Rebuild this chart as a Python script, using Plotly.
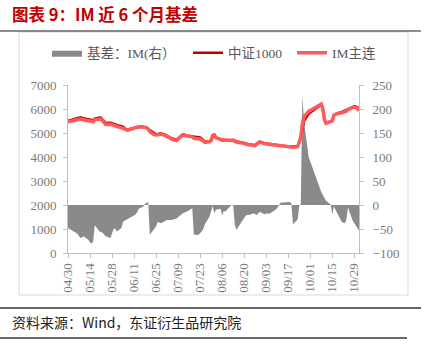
import plotly.graph_objects as go

dates = [
    "2024-04-30",
    "2024-05-06", "2024-05-07", "2024-05-08", "2024-05-09", "2024-05-10",
    "2024-05-13", "2024-05-14", "2024-05-15", "2024-05-16", "2024-05-17",
    "2024-05-20", "2024-05-21", "2024-05-22", "2024-05-23", "2024-05-24",
    "2024-05-27", "2024-05-28", "2024-05-29", "2024-05-30", "2024-05-31",
    "2024-06-03", "2024-06-04", "2024-06-05", "2024-06-06", "2024-06-07",
    "2024-06-11", "2024-06-12", "2024-06-13", "2024-06-14",
    "2024-06-17", "2024-06-18", "2024-06-19", "2024-06-20", "2024-06-21",
    "2024-06-24", "2024-06-25", "2024-06-26", "2024-06-27", "2024-06-28",
    "2024-07-01", "2024-07-02", "2024-07-03", "2024-07-04", "2024-07-05",
    "2024-07-08", "2024-07-09", "2024-07-10", "2024-07-11", "2024-07-12",
    "2024-07-15", "2024-07-16", "2024-07-17", "2024-07-18", "2024-07-19",
    "2024-07-22", "2024-07-23", "2024-07-24", "2024-07-25", "2024-07-26",
    "2024-07-29", "2024-07-30", "2024-07-31", "2024-08-01", "2024-08-02",
    "2024-08-05", "2024-08-06", "2024-08-07", "2024-08-08", "2024-08-09",
    "2024-08-12", "2024-08-13", "2024-08-14", "2024-08-15", "2024-08-16",
    "2024-08-19", "2024-08-20", "2024-08-21", "2024-08-22", "2024-08-23",
    "2024-08-26", "2024-08-27", "2024-08-28", "2024-08-29", "2024-08-30",
    "2024-09-02", "2024-09-03", "2024-09-04", "2024-09-05", "2024-09-06",
    "2024-09-09", "2024-09-10", "2024-09-11", "2024-09-12", "2024-09-13",
    "2024-09-18", "2024-09-19", "2024-09-20",
    "2024-09-23", "2024-09-24", "2024-09-25", "2024-09-26", "2024-09-27",
    "2024-09-30",
    "2024-10-08", "2024-10-09", "2024-10-10", "2024-10-11",
    "2024-10-14", "2024-10-15", "2024-10-16", "2024-10-17", "2024-10-18",
    "2024-10-21", "2024-10-22", "2024-10-23", "2024-10-24", "2024-10-25",
    "2024-10-28", "2024-10-29", "2024-10-30", "2024-10-31", "2024-11-01",
]

csi1000 = [
    5510,
    5600, 5640, 5650, 5630, 5610,
    5580, 5560, 5540, 5545, 5600,
    5650, 5640, 5560, 5500, 5420,
    5430, 5400, 5370, 5350, 5335,
    5280, 5265, 5210, 5160, 5150,
    5230, 5250, 5255, 5260,
    5250, 5240, 5210, 5160, 5120,
    4970, 4950, 4960, 4980, 4990,
    4920, 4880, 4850, 4810, 4780,
    4710, 4760, 4830, 4900, 4940,
    4890, 4880, 4870, 4850, 4845,
    4830, 4810, 4760, 4690, 4650,
    4670, 4700, 4900, 4930, 4820,
    4720, 4720, 4710, 4700, 4710,
    4700, 4710, 4690, 4660, 4650,
    4620, 4580, 4560, 4540, 4530,
    4500, 4490, 4560, 4620, 4640,
    4570, 4560, 4540, 4530, 4520,
    4490, 4480, 4470, 4460, 4450,
    4430, 4440, 4450,
    4460, 4650, 4820, 5150, 5500,
    5800,
    6180, 6000, 5560, 5400,
    5480, 5520, 5740, 5800, 5820,
    5880, 5900, 5920, 5940, 5990,
    6080, 6120, 6100, 6080, 5970,
]

im_main = [
    5462,
    5540, 5575, 5581, 5563, 5545,
    5507, 5482, 5460, 5469, 5558,
    5595, 5584, 5502, 5438, 5355,
    5361, 5340, 5320, 5301, 5280,
    5232, 5230, 5177, 5129, 5120,
    5209, 5230, 5240, 5252,
    5247, 5243, 5214, 5167, 5058,
    4920, 4905, 4925, 4944, 4952,
    4887, 4849, 4819, 4779, 4749,
    4682, 4735, 4806, 4880, 4923,
    4877, 4870, 4861, 4843, 4783,
    4768, 4751, 4705, 4640, 4610,
    4646, 4685, 4898, 4913, 4810,
    4712, 4698, 4698, 4686, 4700,
    4700, 4709, 4650, 4608, 4603,
    4587, 4552, 4538, 4519, 4509,
    4483, 4471, 4539, 4603, 4626,
    4550, 4543, 4522, 4512, 4504,
    4480, 4474, 4470, 4464, 4455,
    4436, 4443, 4410,
    4430, 4648, 4823, 5378, 5675,
    5900,
    6207, 6020, 5573, 5409,
    5481, 5500, 5737, 5790, 5804,
    5845, 5863, 5882, 5910, 5985,
    6047, 6082, 6056, 6032, 5917,
]

basis = [
    -48,
    -60, -65, -69, -67, -65,
    -73, -78, -80, -76, -42,
    -55, -56, -58, -62, -65,
    -69, -60, -50, -49, -55,
    -48, -35, -33, -31, -30,
    -21, -20, -15, -8,
    -3, 3, 4, 7, -62,
    -50, -45, -35, -36, -38,
    -33, -31, -31, -31, -31,
    -28, -25, -24, -20, -17,
    -13, -10, -9, -7, -62,
    -62, -59, -55, -50, -40,
    -24, -15, -2, -17, -10,
    -8, -22, -12, -14, -10,
    0, -1, -40, -52, -47,
    -33, -28, -22, -21, -21,
    -17, -19, -21, -17, -14,
    -20, -17, -18, -18, -16,
    -10, -6, 0, 4, 5,
    6, 3, -40,
    -30, -2, 3, 228, 175,
    100,
    27, 20, 13, 9,
    1, -20, -3, -10, -16,
    -35, -37, -38, -30, -5,
    -33, -38, -44, -48, -53,
]

left_ticks = [0, 1000, 2000, 3000, 4000, 5000, 6000, 7000]
right_ticks = [-100, -50, 0, 50, 100, 150, 200, 250]

title_text = "图表 9：IM 近 6 个月基差"
source_text = "资料来源：Wind，东证衍生品研究院"
names = ["基差：IM(右）", "中证1000", "IM主连"]

W, H = 432, 345
PL, PR, PT, PB = 68, 359, 85, 253


def px(x):
    return (x - PL) / (PR - PL)


def py(y):
    return (PB - y) / (PB - PT)


SERIF = "Liberation Serif, 'Noto Sans CJK SC', serif"
CJK = "'Noto Sans CJK SC', sans-serif"
TICK_COLOR = "#7a7a7a"

fig = go.Figure()

fig.add_trace(go.Scatter(
    x=dates, y=basis, name=names[0], yaxis="y", legend="legend",
    mode="lines", line=dict(width=0, color="#8a8a8a"),
    fill="tozeroy", fillcolor="#8a8a8a",
))
fig.add_trace(go.Scatter(
    x=dates, y=csi1000, name=names[1], yaxis="y2", legend="legend2",
    mode="lines", line=dict(width=2.5, color="#C00000"),
))
fig.add_trace(go.Scatter(
    x=dates, y=im_main, name=names[2], yaxis="y2", legend="legend3",
    mode="lines", line=dict(width=3.5, color="#FF5A5A"),
))


def legend_at(x_left):
    return dict(
        orientation="h", x=px(x_left), xanchor="left", y=py(53), yanchor="middle",
        font=dict(family=SERIF, size=13.5, color="#595959"),
        itemwidth=30, bgcolor="rgba(0,0,0,0)",
    )


fig.update_layout(
    width=W, height=H, autosize=False,
    margin=dict(l=PL, r=W - PR, t=PT, b=H - PB, pad=0),
    paper_bgcolor="white", plot_bgcolor="white",
    font=dict(family=SERIF, size=13, color=TICK_COLOR),
    showlegend=True,
    legend=legend_at(47),
    legend2=legend_at(188),
    legend3=legend_at(292),
    xaxis=dict(
        type="date", range=["2024-04-30", "2024-11-01"],
        tick0="2024-04-30", dtick=14 * 86400000, tickformat="%m/%d",
        tickangle=-90, ticks="outside", ticklen=4, tickcolor="#bfbfbf",
        showline=True, linecolor="#bfbfbf", linewidth=1,
        showgrid=False, zeroline=False,
        tickfont=dict(family=SERIF, size=13, color=TICK_COLOR),
    ),
    yaxis=dict(
        side="right", range=[-100, 250], tickvals=right_ticks,
        ticks="outside", ticklen=4, tickcolor="#bfbfbf",
        showline=True, linecolor="#bfbfbf", linewidth=1,
        showgrid=False, zeroline=False, ticklabelstandoff=6,
        tickfont=dict(family=SERIF, size=13, color=TICK_COLOR),
    ),
    yaxis2=dict(
        overlaying="y", side="left", range=[0, 7000], tickvals=left_ticks,
        ticks="outside", ticklen=4, tickcolor="#bfbfbf",
        showline=True, linecolor="#bfbfbf", linewidth=1,
        showgrid=False, zeroline=False, ticklabelstandoff=4,
        tickfont=dict(family=SERIF, size=13, color=TICK_COLOR),
    ),
)

shapes = [
    dict(type="rect", xref="paper", yref="paper",
         x0=px(19), x1=px(408), y0=py(295), y1=py(32),
         line=dict(color="#d9d9d9", width=1), layer="below"),
    dict(type="line", xref="paper", yref="paper",
         x0=px(0), x1=px(421), y0=py(31), y1=py(31),
         line=dict(color="#666666", width=1.5)),
    dict(type="line", xref="paper", yref="paper",
         x0=px(0), x1=px(421), y0=py(308), y1=py(308),
         line=dict(color="#333333", width=1.5)),
    dict(type="line", xref="paper", yref="paper",
         x0=px(0), x1=px(407), y0=py(338), y1=py(338),
         line=dict(color="#333333", width=1.5)),
]
fig.update_layout(shapes=shapes)

fig.add_annotation(
    text="<b>" + title_text + "</b>", xref="paper", yref="paper",
    x=px(10), y=py(14), xanchor="left", yanchor="middle", showarrow=False,
    font=dict(family=CJK, size=16.5, color="#C00000"),
)
fig.add_annotation(
    text=source_text, xref="paper", yref="paper",
    x=px(10), y=py(322), xanchor="left", yanchor="middle", showarrow=False,
    font=dict(family=CJK, size=14, color="#222222"),
)

fig.write_html("out.html")
